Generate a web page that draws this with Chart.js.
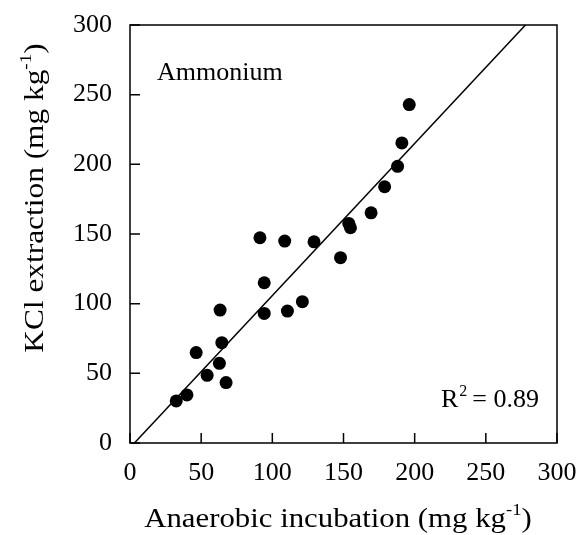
<!DOCTYPE html>
<html>
<head>
<meta charset="utf-8">
<script src="https://cdn.jsdelivr.net/npm/chart.js@4"></script>
<style>
  body { margin: 0; background: #fff; }
  canvas { display: block; }
</style>
</head>
<body>
<canvas id="chart" width="581" height="535"></canvas>
<script>
// NH4+ measured by anaerobic incubation vs KCl extraction (mg/kg)
const incubation = [32.5, 40, 46.5, 54.2, 62.8, 64.5, 67.5, 63.3, 91.3, 94.3, 94.3, 108.7,
  110.6, 121.1, 129.3, 147.9, 153.7, 154.9, 169.4, 178.9, 188, 191, 196.2];
const extraction = [30.2, 34.5, 64.9, 48.6, 57.2, 72, 43.4, 95.4, 147.3, 115, 93, 144.9,
  94.7, 101.4, 144.4, 133, 157.6, 154.5, 165.2, 183.9, 198.6, 215.4, 242.9];
const axisTicks = [0, 50, 100, 150, 200, 250, 300];

// fitted line y = slope * x + intercept
const slope = 1.092;
const intercept = -3.4;
const rSquared = '0.89';

const serif = '"Liberation Serif", "Times New Roman", serif';

let points = incubation.map((x, i) => ({x: x, y: extraction[i]}));
let fitLine = [
  {x: (0 - intercept) / slope, y: 0},
  {x: (300 - intercept) / slope, y: 300}
];

// centred text with a raised part, e.g. "kg" + "-1" + ")"
function drawParts(ctx, parts, x, y, size, stretch) {
  let widths = parts.map(p => {
    ctx.font = (p.sup ? Math.round(size * 0.6) : size) + 'px ' + serif;
    return ctx.measureText(p.t).width;
  });
  let total = widths.reduce((a, b) => a + b, 0);
  ctx.save();
  ctx.translate(x, y);
  ctx.scale(stretch, 1);
  let cx = -total / 2;
  parts.forEach((p, i) => {
    ctx.font = (p.sup ? Math.round(size * 0.6) : size) + 'px ' + serif;
    ctx.fillText(p.t, cx, p.sup ? -size * 0.42 : 0);
    cx += widths[i];
  });
  ctx.restore();
}

const framePlugin = {
  id: 'frame',
  afterDraw(chart) {
    const ctx = chart.ctx;
    const a = chart.chartArea;
    const xs = chart.scales.x, ys = chart.scales.y;
    ctx.save();
    ctx.strokeStyle = '#000';
    ctx.lineWidth = 1.5;
    ctx.strokeRect(a.left, a.top, a.right - a.left, a.bottom - a.top);
    // inward tick marks
    ctx.beginPath();
    axisTicks.forEach(v => {
      let px = xs.getPixelForValue(v);
      ctx.moveTo(px, a.bottom);
      ctx.lineTo(px, a.bottom - 10);
      let py = ys.getPixelForValue(v);
      ctx.moveTo(a.left, py);
      ctx.lineTo(a.left + 10, py);
    });
    ctx.stroke();

    ctx.fillStyle = '#000';
    ctx.textBaseline = 'alphabetic';
    ctx.textAlign = 'left';
    ctx.font = '26px ' + serif;
    ctx.fillText('Ammonium', 157, 80);

    // R² label
    ctx.font = '26px ' + serif;
    ctx.fillText('R', 441, 407);
    let rw = ctx.measureText('R').width;
    ctx.font = '16px ' + serif;
    ctx.fillText('2', 441 + rw + 1, 396);
    ctx.font = '26px ' + serif;
    ctx.fillText('= ' + rSquared, 441 + rw + 14, 407);

    // axis titles
    drawParts(ctx, [{t: 'Anaerobic incubation (mg kg'}, {t: '-1', sup: true}, {t: ')'}], 338, 527, 28, 1.1);
    ctx.translate(43, 198);
    ctx.rotate(-Math.PI / 2);
    drawParts(ctx, [{t: 'KCl extraction (mg kg'}, {t: '-1', sup: true}, {t: ')'}], 0, 0, 28, 1.12);
    ctx.restore();
  }
};

new Chart(document.getElementById('chart').getContext('2d'), {
  type: 'scatter',
  data: {
    datasets: [{
      data: points,
      pointRadius: 6.5,
      pointHoverRadius: 6.5,
      backgroundColor: '#000',
      borderColor: '#000',
      borderWidth: 0
    }, {
      type: 'line',
      data: fitLine,
      borderColor: '#000',
      borderWidth: 1.5,
      pointRadius: 0,
      fill: false
    }]
  },
  options: {
    responsive: false,
    animation: false,
    layout: {padding: {top: 25, right: 24, left: 0, bottom: 0}},
    plugins: {legend: {display: false}, tooltip: {enabled: false}},
    scales: {
      x: {
        type: 'linear', min: 0, max: 300,
        afterFit: s => { s.height = 92; s.paddingLeft = 0; s.paddingRight = 0; },
        afterBuildTicks: s => { s.ticks = axisTicks.map(v => ({value: v})); },
        grid: {display: false, drawTicks: false},
        border: {display: false},
        ticks: {padding: 15, color: '#000', font: {family: serif, size: 26}}
      },
      y: {
        type: 'linear', min: 0, max: 300,
        afterFit: s => { s.width = 130; s.paddingTop = 0; s.paddingBottom = 0; },
        afterBuildTicks: s => { s.ticks = axisTicks.map(v => ({value: v})); },
        grid: {display: false, drawTicks: false},
        border: {display: false},
        ticks: {padding: 18, color: '#000', font: {family: serif, size: 26}}
      }
    }
  },
  plugins: [framePlugin]
});
</script>
</body>
</html>
